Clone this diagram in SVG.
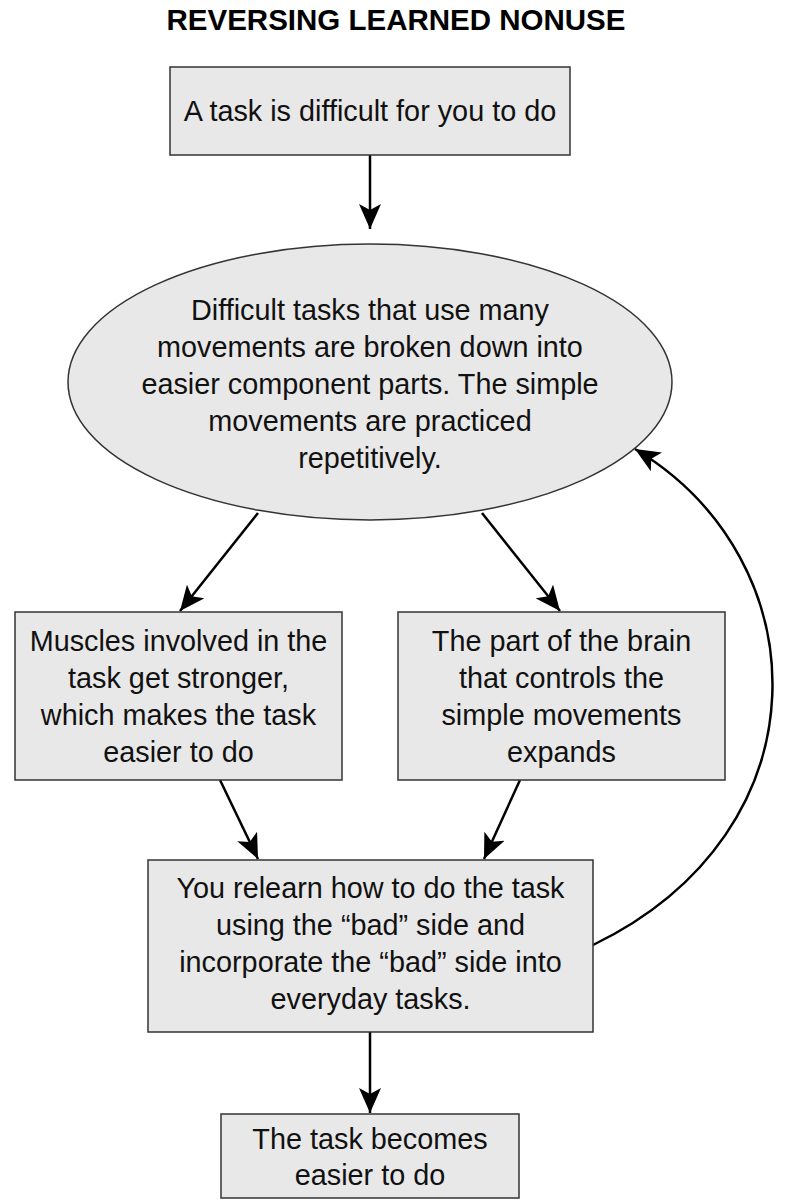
<svg xmlns="http://www.w3.org/2000/svg" width="786" height="1200" viewBox="0 0 786 1200">
<style>
.n{fill:#e8e8e8;stroke:#333;stroke-width:1.5}
.t{font-family:"Liberation Sans",Arial,sans-serif;font-size:28.8px;fill:#111;text-anchor:middle}
.title{font-family:"Liberation Sans",Arial,sans-serif;font-size:29.5px;font-weight:bold;fill:#000;text-anchor:middle}
.c{fill:none;stroke:#000;stroke-width:2.5}
</style>
<defs>
<marker id="ah" viewBox="0 0 25 22" refX="25" refY="11" markerWidth="25" markerHeight="22" markerUnits="userSpaceOnUse" orient="auto">
<path d="M0,0 L25,11 L0,22 L6,11 Z" fill="#000"/>
</marker>
</defs>
<rect width="786" height="1200" fill="#fff"/>
<text class="title" x="396" y="30">REVERSING LEARNED NONUSE</text>
<g id="connectors">
<line class="c" x1="370" y1="155" x2="370" y2="229" marker-end="url(#ah)"/>
<line class="c" x1="258" y1="513" x2="180" y2="611" marker-end="url(#ah)"/>
<line class="c" x1="482" y1="513" x2="560" y2="611" marker-end="url(#ah)"/>
<line class="c" x1="220" y1="780" x2="258" y2="859" marker-end="url(#ah)"/>
<line class="c" x1="520" y1="780" x2="484" y2="859" marker-end="url(#ah)"/>
<line class="c" x1="370" y1="1032" x2="370" y2="1113" marker-end="url(#ah)"/>
<path class="c" d="M593,945 C830,830 820,560 635,449" marker-end="url(#ah)"/>
</g>
<g id="n1">
<rect class="n" x="170" y="67" width="400" height="88"/>
<text class="t" x="370" y="121">A task is difficult for you to do</text>
</g>
<g id="n2">
<ellipse class="n" cx="370" cy="382" rx="302" ry="138"/>
<text class="t" x="370" y="320">Difficult tasks that use many</text>
<text class="t" x="370" y="357">movements are broken down into</text>
<text class="t" x="370" y="394">easier component parts. The simple</text>
<text class="t" x="370" y="431">movements are practiced</text>
<text class="t" x="370" y="468">repetitively.</text>
</g>
<g id="n3">
<rect class="n" x="15" y="612" width="327" height="168"/>
<text class="t" x="178.5" y="651">Muscles involved in the</text>
<text class="t" x="178.5" y="688">task get stronger,</text>
<text class="t" x="178.5" y="725">which makes the task</text>
<text class="t" x="178.5" y="762">easier to do</text>
</g>
<g id="n4">
<rect class="n" x="398" y="612" width="327" height="168"/>
<text class="t" x="561.5" y="651">The part of the brain</text>
<text class="t" x="561.5" y="688">that controls the</text>
<text class="t" x="561.5" y="725">simple movements</text>
<text class="t" x="561.5" y="762">expands</text>
</g>
<g id="n5">
<rect class="n" x="148" y="860" width="445" height="172"/>
<text class="t" x="370.5" y="898">You relearn how to do the task</text>
<text class="t" x="370.5" y="935">using the “bad” side and</text>
<text class="t" x="370.5" y="972">incorporate the “bad” side into</text>
<text class="t" x="370.5" y="1009">everyday tasks.</text>
</g>
<g id="n6">
<rect class="n" x="221" y="1114" width="298" height="84"/>
<text class="t" x="370" y="1149">The task becomes</text>
<text class="t" x="370" y="1185">easier to do</text>
</g>
</svg>
